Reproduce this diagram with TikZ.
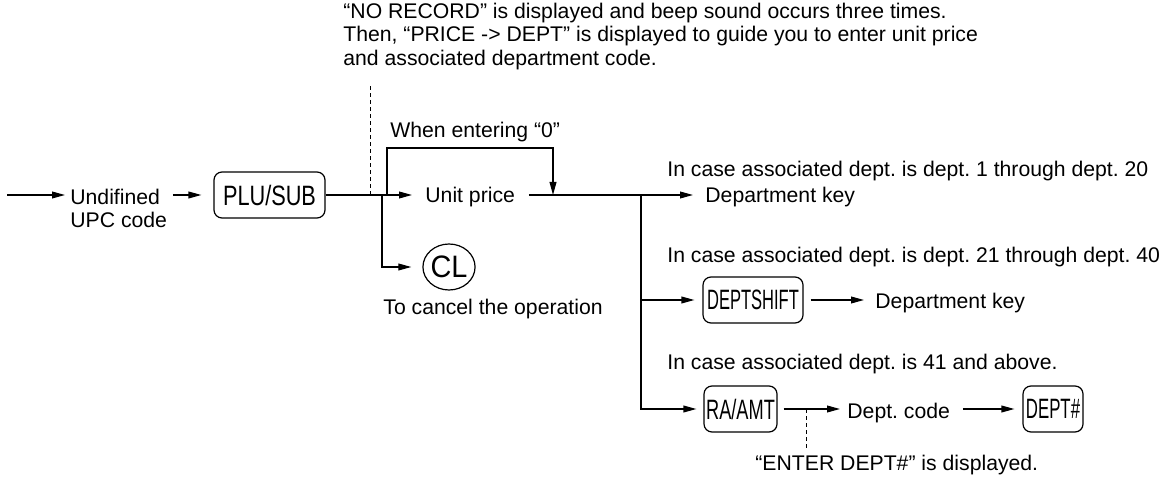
\documentclass[tikz,border=0pt]{standalone}
\usepackage{fontspec}
\setmainfont{Liberation Sans}
\usepackage{graphicx}
\usetikzlibrary{arrows.meta, shapes.geometric}
\frenchspacing
\newcommand{\keytext}[2]{\scalebox{#1}[1]{#2}}
\tikzset{
  lbl/.style={inner sep=0pt, align=left, font=\fontsize{10.6}{11.8}\selectfont},
  keyb/.style={draw, rounded corners=4pt, line width=0.6pt, minimum height=23pt,
               inner sep=0pt, font=\fontsize{14}{14}\selectfont},
  keyc/.style={draw, ellipse, line width=0.6pt, minimum width=26pt, minimum height=23pt,
               inner sep=0pt, font=\fontsize{15.5}{15.5}\selectfont},
  flow/.style={-{Triangle[length=6.5pt, width=3.4pt]}, line width=0.65pt},
  hint/.style={dash pattern=on 2pt off 1.5pt, line width=0.5pt},
}
\begin{document}
\begin{tikzpicture}[x=0.5pt, y=-0.5pt]
  \useasboundingbox (0,0) rectangle (1170,485);
  % keys
  \node[keyb, minimum width=55.5pt] (plu) at (269.5,195) {\keytext{0.776}{PLU/SUB}};
  \node[keyc] (cl) at (449,267) {\keytext{0.93}{CL}};
  \node[keyb, minimum width=50pt] (shift) at (753,300) {\keytext{0.59}{DEPTSHIFT}};
  \node[keyb, minimum width=36.5pt] (amt) at (740.5,409) {\keytext{0.65}{RA/AMT}};
  \node[keyb, minimum width=30pt] (dept) at (1053,409) {\keytext{0.6}{DEPT\#}};
  % texts
  \node[lbl, anchor=north west] (msg) at (343,2.5) {“NO RECORD” is displayed and beep sound occurs three times.\\Then, “PRICE -> DEPT” is displayed to guide you to enter unit price\\and associated department code.};
  \node[lbl, anchor=north west] (upc) at (70,188.5) {Undifined\\UPC code};
  \node[lbl, anchor=base west] (price) at (425,203) {Unit price};
  \node[lbl, anchor=base west] (zero) at (390,138) {When entering “0”};
  \node[lbl, anchor=base west] (cancel) at (383,315) {To cancel the operation};
  \node[lbl, anchor=base west] (case1) at (667,177) {In case associated dept. is dept. 1 through dept. 20};
  \node[lbl, anchor=base west] (key1) at (705,203) {Department key};
  \node[lbl, anchor=base west] (case2) at (667,263) {In case associated dept. is dept. 21 through dept. 40};
  \node[lbl, anchor=base west] (key2) at (875,309) {Department key};
  \node[lbl, anchor=base west] (case3) at (667,370) {In case associated dept. is 41 and above.};
  \node[lbl, anchor=base west] (code) at (847,418) {Dept. code};
  \node[lbl, anchor=base west] (enter) at (755,470) {“ENTER DEPT\#” is displayed.};
  % branch points
  \coordinate (in) at (7,195);
  \coordinate (sp1) at (382,195);
  \coordinate (lp) at (387,195);
  \coordinate (lq) at (553,195);
  \coordinate (sp2) at (641,195);
  \coordinate (hint1) at (370,195);
  \coordinate (hint2) at (806,409);
  % connectors
  \draw[flow, shorten >=2.5pt] (in) -- (in -| upc.west);
  \draw[flow, shorten <=2.75pt, shorten >=6pt] (upc.east |- plu.west) -- (plu.west);
  \draw[flow, shorten >=6.5pt] (plu.east) -- (plu.east -| price.west);
  \draw[flow, shorten >=5.5pt] (sp1) |- (cl.west);
  \draw[flow] (lp) -- ++(0,-47) -| (lq);
  \draw[flow, shorten <=6.75pt, shorten >=6pt] (price.east |- sp2) -- (sp2 -| key1.west);
  \draw[flow, shorten >=4pt] (sp2) |- (shift.west);
  \draw[flow, shorten >=3.5pt] (sp2) |- (amt.west);
  \draw[flow, shorten <=3.5pt, shorten >=5.5pt] (shift.east) -- (shift.east -| key2.west);
  \draw[flow, shorten <=3pt, shorten >=3.5pt] (amt.east) -- (amt.east -| code.west);
  \draw[flow, shorten <=6.25pt, shorten >=4pt] (amt.east -| code.east) -- (dept.west);
  \draw[hint, shorten >=6.75pt] (hint1) -- (hint1 |- msg.south);
  \draw[hint, shorten >=2pt] (hint2) -- (hint2 |- enter.north);
\end{tikzpicture}
\end{document}
